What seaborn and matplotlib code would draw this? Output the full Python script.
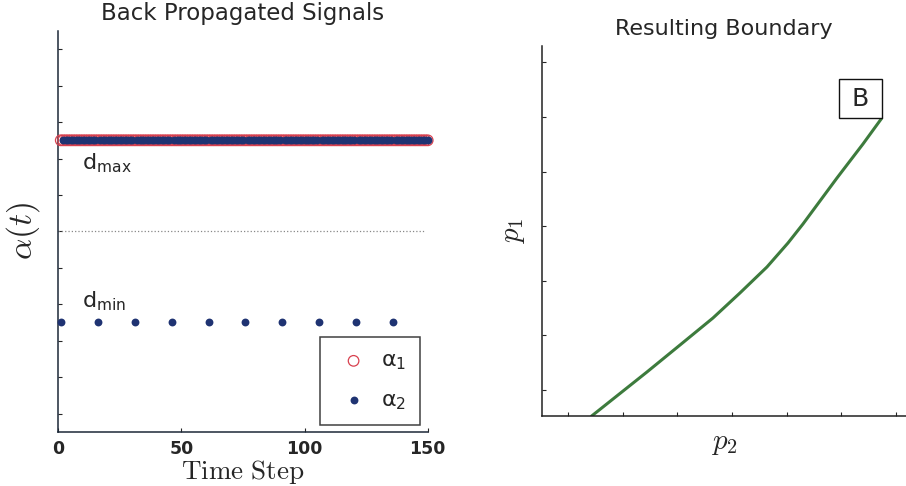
import matplotlib
matplotlib.use("Agg")
import matplotlib.pyplot as plt
import numpy as np
import seaborn as sns
from matplotlib.font_manager import FontProperties

# --- data -------------------------------------------------------------
time_steps = np.arange(1, 151)
d_max = 7.5
d_min = 2.5
reset_steps = [1, 16, 31, 46, 61, 76, 91, 106, 121, 136]
alpha1 = np.full(len(time_steps), d_max)
alpha2 = np.where(np.isin(time_steps, reset_steps), d_min, d_max)

p2_vals = [1.433, 1.823, 2.444, 3.048, 3.651, 4.144, 4.638, 5.022, 5.296, 5.918, 6.393, 6.735]
p1_vals = [0.524, 0.835, 1.330, 1.824, 2.319, 2.777, 3.253, 3.692, 4.040, 4.883, 5.505, 5.976]

left_xticks = [0, 50, 100, 150]
left_yticks = list(range(11))
right_ticks = list(range(1, 8))

RED = "#d8404e"
BLUE = "#1f3372"
GREEN = "#3d7b3d"

# --- style ------------------------------------------------------------
sns.set_style("ticks")
plt.rcParams["font.family"] = ["DejaVu Sans"]
plt.rcParams["mathtext.fontset"] = "cm"
plt.rcParams["xtick.direction"] = "in"
plt.rcParams["ytick.direction"] = "in"
plt.rcParams["xtick.major.size"] = 3
plt.rcParams["ytick.major.size"] = 3

fig = plt.figure(figsize=(9.06, 4.86), dpi=100)

# --- left panel: back propagated signals -------------------------------
ax1 = fig.add_axes([58.3 / 906, 54.2 / 486, 369.4 / 906, 400.8 / 486])
sns.scatterplot(x=time_steps, y=alpha1, ax=ax1, s=58, marker="o",
                facecolor="none", edgecolor=RED, linewidth=0.9,
                label="α$_1$", clip_on=False, zorder=3)
sns.scatterplot(x=time_steps, y=alpha2, ax=ax1, s=32, marker="o",
                color=BLUE, edgecolor=BLUE, linewidth=0,
                label="α$_2$", clip_on=False, zorder=4)
ax1.axhline((d_max + d_min) / 2, xmin=0, xmax=0.99, color="#888888",
            linestyle=":", linewidth=0.9)

ax1.set_xlim(0, 150)
ax1.set_ylim(-0.5, 10.5)
ax1.set_xticks(left_xticks)
ax1.set_xticklabels([str(t) for t in left_xticks], fontsize=12.5, fontweight="bold")
ax1.set_yticks(left_yticks)
ax1.set_yticklabels([])
ax1.tick_params(axis="x", pad=6)
ax1.set_xlabel(r"$\mathrm{Time\ Step}$", fontsize=19.5, labelpad=0)
ax1.set_ylabel(r"$\alpha(t)$", fontsize=24, labelpad=8)
ax1.set_title("Back Propagated Signals", fontsize=16.5, pad=8)
sns.despine(ax=ax1)
for side in ["left", "bottom"]:
    ax1.spines[side].set_color("#1c2838")
    ax1.spines[side].set_linewidth(1.1)

ax1.text(9.6, 6.87, r"d$_{\mathrm{max}}$", fontsize=16, va="center",
         math_fontfamily="dejavusans")
ax1.text(9.6, 3.08, r"d$_{\mathrm{min}}$", fontsize=16, va="center",
         math_fontfamily="dejavusans")

leg = ax1.legend(loc="lower right", bbox_to_anchor=(0.979, 0.017),
                 prop=FontProperties(family="DejaVu Sans", size=16,
                                     math_fontfamily="dejavusans"),
                 frameon=True, fancybox=False, borderpad=0.6,
                 labelspacing=0.8, handletextpad=0.35, borderaxespad=0,
                 markerscale=1.0, handlelength=1.8)
leg.get_frame().set_edgecolor("#111111")
leg.get_frame().set_linewidth(1.1)

# --- right panel: resulting boundary -----------------------------------
ax2 = fig.add_axes([542 / 906, 70 / 486, 364 / 906, 370 / 486])
sns.lineplot(x=p2_vals, y=p1_vals, ax=ax2, sort=False, color=GREEN,
             linewidth=2.2, estimator=None)
ax2.set_xlim(0.525, 7.18)
ax2.set_ylim(0.524, 7.30)
ax2.set_xticks(right_ticks)
ax2.set_yticks(right_ticks)
ax2.set_xticklabels([])
ax2.set_yticklabels([])
ax2.set_xlabel(r"$p_2$", fontsize=21, labelpad=6)
ax2.set_ylabel(r"$p_1$", fontsize=21, labelpad=7)
ax2.set_title("Resulting Boundary", fontsize=16, pad=8)
sns.despine(ax=ax2)
for side in ["left", "bottom"]:
    ax2.spines[side].set_color("#222222")
    ax2.spines[side].set_linewidth(1.1)

ax2.annotate("\u2009B\u2009", xy=(p2_vals[-1], p1_vals[-1]), xytext=(-5.5, 5.5),
             textcoords="offset points", ha="right", va="bottom",
             fontsize=18,
             bbox=dict(boxstyle="square,pad=0.3", facecolor="white",
                       edgecolor="#111111", linewidth=1.0))

fig.savefig("out.png", dpi=100)
